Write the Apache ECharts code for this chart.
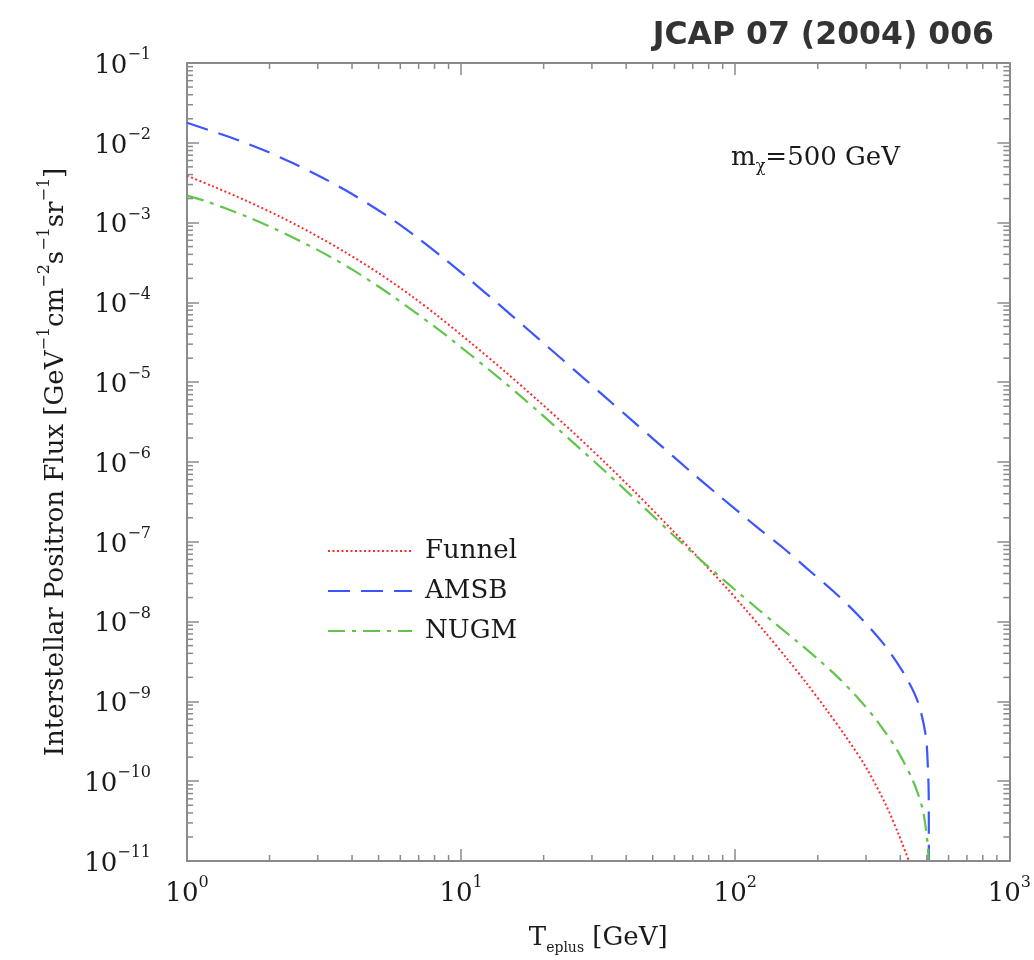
<!DOCTYPE html>
<html>
<head>
<meta charset="utf-8">
<script src="https://cdn.jsdelivr.net/npm/echarts@6/dist/echarts.min.js"></script>
<style>html,body{margin:0;padding:0;background:#fff}#c{width:1034px;height:960px}</style>
</head>
<body>
<div id="c"></div>
<script>
// ---- data ----
const seriesNames = ['Funnel', 'AMSB', 'NUGM'];

const T_FUNNEL = [1.0, 1.24, 1.65, 2.17, 2.86, 3.80, 5.01, 6.60, 8.27, 10.9, 14.5, 19.1, 25.1, 33.4, 44.0, 57.9, 72.5, 93.2, 110, 130, 154, 182, 215, 254, 300, 355, 395, 430];
const FLUX_FUNNEL = [3.87e-3, 2.86e-3, 1.87e-3, 1.2e-3, 7.33e-4, 4.2e-4, 2.32e-4, 1.2e-4, 6.65e-5, 3.08e-5, 1.35e-5, 5.87e-6, 2.51e-6, 9.93e-7, 3.91e-7, 1.49e-7, 6.6e-8, 2.62e-8, 1.37e-8, 7.03e-9, 3.48e-9, 1.69e-9, 7.9e-10, 3.55e-10, 1.49e-10, 5.0e-11, 2.13e-11, 1.0e-11];

const T_AMSB = [1.0, 1.42, 1.89, 2.42, 3.11, 4.0, 5.54, 6.88, 8.77, 10.9, 13.7, 17.1, 21.3, 26.6, 33.4, 41.5, 52.0, 68.5, 85.8, 119.7, 150, 182, 228, 283, 346, 409, 463, 495, 504, 508, 508.5];
const FLUX_AMSB = [1.78e-2, 1.19e-2, 8.17e-3, 5.62e-3, 3.67e-3, 2.28e-3, 1.13e-3, 6.6e-4, 3.43e-4, 1.85e-4, 9.5e-5, 4.92e-5, 2.55e-5, 1.31e-5, 6.6e-6, 3.44e-6, 1.75e-6, 7.66e-7, 3.98e-7, 1.54e-7, 8.3e-8, 4.68e-8, 2.4e-8, 1.17e-8, 5.37e-9, 2.34e-9, 1.0e-9, 3.8e-10, 1.58e-10, 6.3e-11, 1.0e-11];

const T_NUGM = [1.0, 1.18, 1.65, 2.1, 3.04, 4.0, 5.58, 8.07, 9.22, 10.9, 14.5, 19.1, 25.1, 33.4, 46.6, 57.9, 72.5, 101, 120, 141.5, 167, 198, 234, 276, 326, 386, 444, 483, 504, 507];
const FLUX_NUGM = [2.18e-3, 1.84e-3, 1.19e-3, 8.3e-4, 4.42e-4, 2.59e-4, 1.22e-4, 4.86e-5, 3.42e-5, 2.16e-5, 9.73e-6, 4.31e-6, 1.87e-6, 7.71e-7, 2.67e-7, 1.32e-7, 6.5e-8, 2.42e-8, 1.47e-8, 9.14e-9, 5.74e-9, 3.5e-9, 2.09e-9, 1.17e-9, 5.94e-10, 2.58e-10, 1.03e-10, 4.4e-11, 1.58e-11, 1.0e-11];

const X_MIN = 1, X_MAX = 1000;
const Y_MIN = 1e-11, Y_MAX = 1e-1;
const X_MINOR_TICKS = [];
for (let d = 0; d < 3; d++) for (let k = 2; k <= 9; k++) X_MINOR_TICKS.push(k * Math.pow(10, d));
const Y_MINOR_TICKS = [];
for (let d = -11; d < -1; d++) for (let k = 2; k <= 9; k++) Y_MINOR_TICKS.push(k * Math.pow(10, d));

// ---- styling ----
const SERIF = "'DejaVu Serif', 'Liberation Serif', serif";
const AXIS_COLOR = '#8a8a8a';
const TEXT_COLOR = '#1a1a1a';
const pair = (xs, ys) => xs.map((x, i) => [x, ys[i]]);
const expLabel = v => {
  const e = Math.round(Math.log10(v));
  return '{b|10}{s|' + String(e).replace('-', '\u2212') + '}';
};
const labelRich = {
  b: { fontFamily: SERIF, fontSize: 26, color: TEXT_COLOR, lineHeight: 32, verticalAlign: 'bottom' },
  s: { fontFamily: SERIF, fontSize: 16, color: TEXT_COLOR, lineHeight: 16, verticalAlign: 'top' }
};

function baseAxis(extra) {
  return Object.assign({
    type: 'log', logBase: 10,
    axisLine: { show: true, onZero: false, lineStyle: { color: AXIS_COLOR, width: 2 } },
    axisTick: { show: true, inside: true, length: 12, lineStyle: { color: AXIS_COLOR, width: 1.5 } },
    splitLine: { show: false },
    minorTick: { show: false },
    interval: 1
  }, extra);
}

const lineStyles = {
  Funnel: { color: '#ff2a2a', type: [2, 2.5], width: 2 },
  AMSB: { color: '#3b55ff', type: [22, 11], width: 2.2 },
  NUGM: { color: '#62c44a', type: [17, 7, 4, 7], width: 2.2 }
};

function minorRender(axis) {
  return function (params, api) {
    const cs = params.coordSys;
    const p = api.coord([api.value(0), api.value(1)]);
    const st = { stroke: AXIS_COLOR, lineWidth: 1.5 };
    if (axis === 'x') {
      return { type: 'group', children: [
        { type: 'line', shape: { x1: p[0], y1: cs.y + cs.height, x2: p[0], y2: cs.y + cs.height - 6 }, style: st },
        { type: 'line', shape: { x1: p[0], y1: cs.y, x2: p[0], y2: cs.y + 6 }, style: st }
      ] };
    }
    return { type: 'group', children: [
      { type: 'line', shape: { x1: cs.x, y1: p[1], x2: cs.x + 6, y2: p[1] }, style: st },
      { type: 'line', shape: { x1: cs.x + cs.width, y1: p[1], x2: cs.x + cs.width - 6, y2: p[1] }, style: st }
    ] };
  };
}

function lineSeries(name, xs, ys) {
  return { name: name, type: 'line', data: pair(xs, ys), symbol: 'none', showSymbol: false,
    smooth: 0.3, lineStyle: lineStyles[name], itemStyle: { color: lineStyles[name].color }, clip: true, z: 3 };
}

const chart = echarts.init(document.getElementById('c'), null, { renderer: 'canvas' });
chart.setOption({
  backgroundColor: '#ffffff',
  animation: false,
  title: [
    { text: 'JCAP 07 (2004) 006', right: 35, top: 15,
      textStyle: { fontFamily: "'DejaVu Sans', 'Liberation Sans', sans-serif", fontWeight: 'bold', fontSize: 31.5, color: '#333' } },
    { text: '{a|m}{sub|\u03c7}{a|=500 GeV}', left: 726, top: 140,
      textStyle: { fontWeight: 'normal', rich: {
        a: { fontFamily: SERIF, fontWeight: 'normal', fontSize: 26, color: TEXT_COLOR, lineHeight: 30, verticalAlign: 'top' },
        sub: { fontFamily: SERIF, fontWeight: 'normal', fontSize: 16, color: TEXT_COLOR, lineHeight: 16, verticalAlign: 'bottom' }
      } } }
  ],
  grid: { left: 187, right: 20, top: 63, bottom: 97, containLabel: false },
  legend: {
    data: seriesNames, orient: 'vertical', left: 322, top: 533,
    itemWidth: 84, itemHeight: 14, itemGap: 14,
    itemStyle: { opacity: 0 },
    lineStyle: { opacity: 1 },
    textStyle: { fontFamily: SERIF, fontSize: 26, color: TEXT_COLOR, padding: [0, 0, 0, 8] }
  },
  xAxis: [
    baseAxis({ position: 'bottom', min: X_MIN, max: X_MAX,
      axisLabel: { show: true, margin: 14, formatter: expLabel, rich: labelRich },
      name: '{a|T}{sub|eplus}{a| [GeV]}', nameLocation: 'middle', nameGap: 64,
      nameTextStyle: { rich: {
        a: { fontFamily: SERIF, fontSize: 26, color: TEXT_COLOR, lineHeight: 30, verticalAlign: 'top' },
        sub: { fontFamily: SERIF, fontSize: 14, color: TEXT_COLOR, lineHeight: 14, verticalAlign: 'bottom' }
      } } }),
    baseAxis({ position: 'top', min: X_MIN, max: X_MAX, axisLabel: { show: false } })
  ],
  yAxis: [
    baseAxis({ position: 'left', min: Y_MIN, max: Y_MAX,
      axisLabel: { show: true, margin: 36, formatter: expLabel, rich: labelRich },
      name: '{a|Interstellar Positron Flux [GeV}{s|\u22121}{a|cm}{s|\u22122}{a|s}{s|\u22121}{a|sr}{s|\u22121}{a|]}',
      nameLocation: 'middle', nameRotate: 90, nameGap: 118,
      nameTextStyle: { rich: {
        a: { fontFamily: SERIF, fontSize: 26, color: TEXT_COLOR, lineHeight: 32, verticalAlign: 'bottom' },
        s: { fontFamily: SERIF, fontSize: 16, color: TEXT_COLOR, lineHeight: 16, verticalAlign: 'top' }
      } } }),
    baseAxis({ position: 'right', min: Y_MIN, max: Y_MAX, axisLabel: { show: false } })
  ],
  series: [
    lineSeries('Funnel', T_FUNNEL, FLUX_FUNNEL),
    lineSeries('AMSB', T_AMSB, FLUX_AMSB),
    lineSeries('NUGM', T_NUGM, FLUX_NUGM),
    { name: 'xMinor', type: 'custom', renderItem: minorRender('x'), data: X_MINOR_TICKS.map(v => [v, Y_MIN]), silent: true, clip: false, z: 5 },
    { name: 'yMinor', type: 'custom', renderItem: minorRender('y'), data: Y_MINOR_TICKS.map(v => [X_MIN, v]), silent: true, clip: false, z: 5 }
  ]
});
</script>
</body>
</html>
